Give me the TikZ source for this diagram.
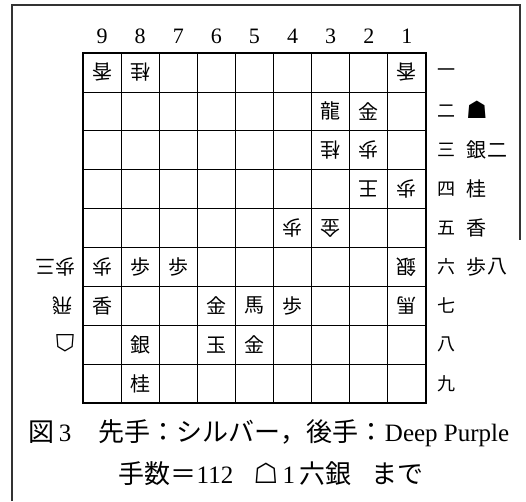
\documentclass[tikz,border=0pt]{standalone}
\usepackage{fontspec}
\setmainfont{Liberation Serif}
\newfontfamily\jp{Noto Sans CJK JP}
\newfontfamily\symb{DejaVu Sans}
\usetikzlibrary{positioning}
\tikzset{
	piece/.style={font=\jp\fontsize{20}{20}\selectfont, inner sep=0pt}, % sente pieces
	gpiece/.style={piece, rotate=180}, % gote pieces are upside down
	colnum/.style={font=\fontsize{22}{22}\selectfont, inner sep=0pt}, % file numbers
	rank/.style={font=\jp\fontsize{18}{18}\selectfont, inner sep=0pt}, % rank numbers
	hand/.style={piece}, % pieces in hand
	koma/.style={font=\symb\fontsize{24}{24}\selectfont, inner sep=0pt}, % piece symbol
	caption/.style={font=\fontsize{25}{25}\selectfont, inner sep=0pt},
	frame/.style={line width=1.2pt, draw=black!80},
}

\begin{document}
\begin{tikzpicture}[x=1pt, y=-1pt]
	\useasboundingbox (0,0) rectangle (526,501);
	
	% outer frame
	\draw[frame] (12,501) -- (12,5) -- (520,5) -- (520,240);
	
	\begin{scope}[shift={(83,53)}, x=38.1pt, y=-38.9pt]
		% board
		\foreach \i in {1,...,8} {
			\draw[line width=0.8pt] (\i,0) -- (\i,9);
			\draw[line width=0.8pt] (0,\i) -- (9,\i);
		}
		\draw[line width=1.6pt] (0,0) rectangle (9,9);
		
		% file and rank numbers
		\foreach \c in {1,...,9}
			\node[colnum] (f\c) at ({9.5-\c},-0.42) {\c};
		\foreach \r/\k in {1/一,2/二,3/三,4/四,5/五,6/六,7/七,8/八,9/九}
			\node[rank] (r\r) at (9.55,{\r-0.5}) {\k};
		
		% rank 1-3
		\node[gpiece] (p91) at (0.5,0.5) {香};
		\node[gpiece] (p81) at (1.5,0.5) {桂};
		\node[gpiece] (p11) at (8.5,0.5) {香};
		\node[piece] (p32) at (6.5,1.5) {龍};
		\node[piece] (p22) at (7.5,1.5) {金};
		\node[gpiece] (p33) at (6.5,2.5) {桂};
		\node[gpiece] (p23) at (7.5,2.5) {歩};
		% rank 4-6
		\node[gpiece] (p24) at (7.5,3.5) {王};
		\node[gpiece] (p14) at (8.5,3.5) {歩};
		\node[gpiece] (p45) at (5.5,4.5) {歩};
		\node[gpiece] (p35) at (6.5,4.5) {金};
		\node[gpiece] (p96) at (0.5,5.5) {歩};
		\node[piece] (p86) at (1.5,5.5) {歩};
		\node[piece] (p76) at (2.5,5.5) {歩};
		\node[gpiece] (p16) at (8.5,5.5) {銀};
		% rank 7-9
		\node[piece] (p97) at (0.5,6.5) {香};
		\node[piece] (p67) at (3.5,6.5) {金};
		\node[piece] (p57) at (4.5,6.5) {馬};
		\node[piece] (p47) at (5.5,6.5) {歩};
		\node[gpiece] (p17) at (8.5,6.5) {馬};
		\node[piece] (p88) at (1.5,7.5) {銀};
		\node[piece] (p68) at (3.5,7.5) {玉};
		\node[piece] (p58) at (4.5,7.5) {金};
		\node[piece] (p89) at (1.5,8.5) {桂};
		
		% sente hand
		\node[koma] (hs) at (10.34,1.45) {☗};
		\node[hand] (hs3) at (10.34,2.5) {銀};
		\node[hand, right=0pt of hs3] (hs3n) {二};
		\node[hand] (hs4) at (10.34,3.5) {桂};
		\node[hand] (hs5) at (10.34,4.5) {香};
		\node[hand] (hs6) at (10.34,5.5) {歩};
		\node[hand, right=0pt of hs6] (hs6n) {八};
		
		% gote hand
		\node[gpiece] (hg6) at (-0.72,5.5) {歩三};
		\node[gpiece] (hg7) at (-0.55,6.5) {飛};
		\node[koma, rotate=180] (hg) at (-0.47,7.45) {☖};
	\end{scope}
	
	% Text
	\node[caption] (cap1) at (269,433) {{\jp\fontsize{26}{26}\selectfont 図}\,3\hspace{1.1em}{\jp\fontsize{26}{26}\selectfont 先手：シルバー，後手：}Deep Purple};
	\node[caption] (cap2) at (271,474) {{\jp\fontsize{26}{26}\selectfont 手数＝}112\hspace{0.8em}{\symb\fontsize{28}{28}\selectfont ☖}\,1\,{\jp\fontsize{26}{26}\selectfont 六銀}\hspace{0.8em}{\jp\fontsize{26}{26}\selectfont まで}};
	
\end{tikzpicture}
\end{document}
